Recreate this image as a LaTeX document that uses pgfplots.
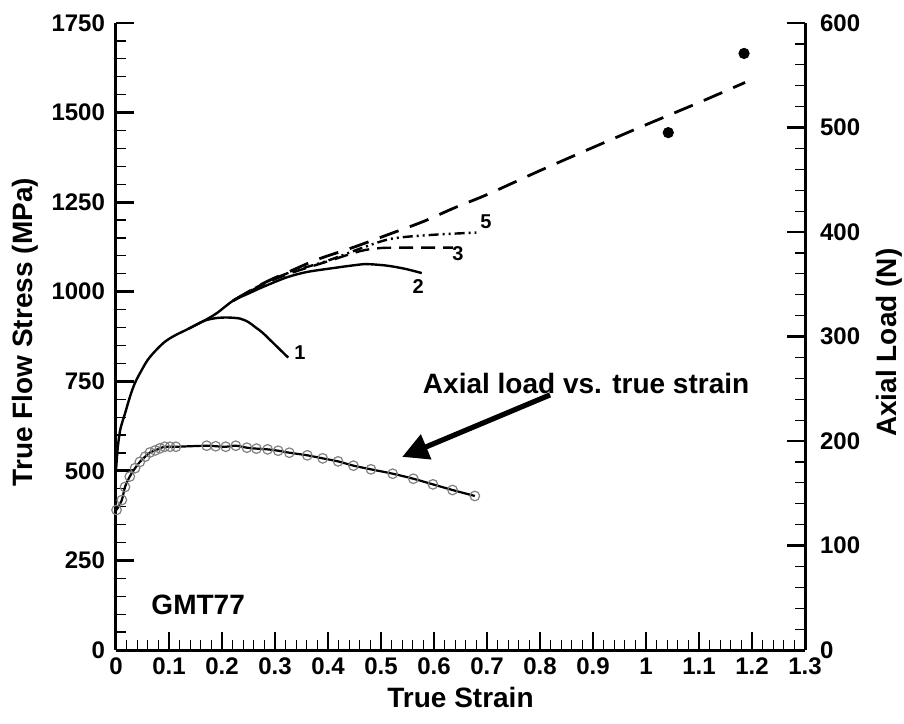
\documentclass[border=0pt]{standalone}
\usepackage{pgfplots}
\pgfplotsset{compat=1.18}
\usepackage{pgfplotstable}
\usepackage{fontspec}
\setmainfont{Liberation Sans}
\usetikzlibrary{arrows.meta}

% axial load (N) vs true strain, right axis
\pgfplotstableread{
e     load
0.001 134
0.011 143.5
0.017 156
0.026 166
0.036 174
0.045 180
0.055 185
0.064 189
0.074 191
0.083 193
0.092 194.5
0.102 194.5
0.113 194.5
0.171 195.5
0.188 195
0.207 194.5
0.226 195.5
0.247 193.6
0.265 192.7
0.286 192
0.306 190.7
0.327 188.8
0.361 186.3
0.390 183.4
0.419 180.5
0.448 176.4
0.481 172.9
0.522 168.7
0.561 163.9
0.598 158.5
0.635 153.1
0.677 147.4
}\loaddata

\pgfplotsset{
  myaxis/.style={
    scale only axis, width=344.5pt, height=313.5pt,
    xmin=0, xmax=1.3,
    tick align=inside,
    axis line style={line width=1.5pt},
    major tick length=9pt, minor tick length=5pt,
    major tick style={black, line width=1.4pt},
    minor tick style={black, line width=0.6pt},
    /pgf/number format/assume math mode=true,
    /pgf/number format/1000 sep={},
    tick label style={font=\fontsize{12}{14}\selectfont\bfseries},
    clip=false,
  }
}

\begin{document}
\begin{tikzpicture}
\useasboundingbox (-58pt,-36.5pt) rectangle (394pt,325pt);
\begin{axis}[myaxis,
  axis x line*=bottom, axis y line*=left,
  ymin=0, ymax=1750,
  xtick={0,0.1,0.2,0.3,0.4,0.5,0.6,0.7,0.8,0.9,1,1.1,1.2,1.3},
  minor x tick num=4,
  ytick={0,250,500,750,1000,1250,1500,1750},
  minor y tick num=4,
  yticklabel style={xshift=-2pt},
  xticklabel style={yshift=-0.5pt},
  xlabel={True Strain},
  ylabel={True Flow Stress (MPa)},
  xlabel style={at={(axis description cs:0.5,-0.075)}, anchor=center,
    font=\fontsize{14}{16}\selectfont\bfseries},
  ylabel style={at={(axis description cs:-0.132,0.507)}, anchor=center,
    font=\fontsize{14}{16}\selectfont\bfseries},
]
% curve 1
\addplot[black, line width=1.2pt, smooth] coordinates {
(0,500) (0.003,560) (0.008,615) (0.017,660) (0.027,710) (0.036,746)
(0.048,780) (0.06,810) (0.075,836) (0.092,860) (0.11,877) (0.136,896)
(0.165,918) (0.187,926) (0.21,928) (0.234,925) (0.25,915) (0.262,902)
(0.277,885) (0.30,852) (0.325,816)};
% curve 2
\addplot[black, line width=1.2pt, smooth] coordinates {
(0.136,896) (0.165,918) (0.19,940) (0.221,975) (0.25,995) (0.28,1015)
(0.322,1040) (0.36,1055) (0.41,1066) (0.45,1074) (0.473,1077) (0.51,1073)
(0.545,1064) (0.577,1052)};
% curve 3
\addplot[black, line width=1.2pt, dash pattern=on 7pt off 4pt, smooth] coordinates {
(0.221,975) (0.28,1022) (0.33,1052) (0.40,1085) (0.46,1113) (0.50,1122)
(0.56,1123) (0.636,1123)};
% curve 5
\addplot[black, line width=1.2pt, dash pattern=on 5pt off 2pt on 1pt off 2pt on 1pt off 2pt, smooth] coordinates {
(0.221,975) (0.28,1024) (0.33,1055) (0.40,1087) (0.46,1120) (0.52,1148)
(0.60,1159) (0.68,1165)};
% extrapolation
\addplot[black, line width=1.4pt, dash pattern=on 10pt off 6pt, smooth] coordinates {
(0.221,975) (0.28,1025) (0.33,1058) (0.38,1090) (0.45,1125) (0.52,1163)
(0.58,1196) (0.64,1235) (0.70,1271) (0.80,1338) (0.913,1411) (1.0,1466)
(1.1,1528) (1.187,1584)};
% measured points
\addplot[only marks, mark=*, mark size=2.6pt, black] coordinates {
(1.042,1444) (1.185,1665)};

\node[font=\fontsize{10}{12}\selectfont\bfseries] at (axis cs:0.347,830) {1};
\node[font=\fontsize{10}{12}\selectfont\bfseries] at (axis cs:0.570,1014) {2};
\node[font=\fontsize{10}{12}\selectfont\bfseries] at (axis cs:0.645,1106) {3};
\node[font=\fontsize{10}{12}\selectfont\bfseries] at (axis cs:0.698,1196) {5};
\node[font=\fontsize{14}{16}\selectfont\bfseries] at (axis cs:0.887,743) {Axial load vs. true strain};
\node[font=\fontsize{14}{16}\selectfont\bfseries] at (axis cs:0.155,126) {GMT77};
\draw[-{Triangle[length=13pt,width=13pt]}, line width=2.6pt]
  (axis cs:0.819,712) -- (axis cs:0.540,539);
\end{axis}

\begin{axis}[myaxis,
  axis y line*=right, axis x line=none,
  ymin=0, ymax=600,
  ytick={0,100,200,300,400,500,600},
  minor y tick num=4,
  yticklabel style={xshift=4pt},
  ylabel={Axial Load (N)},
  ylabel style={at={(axis description cs:1.123,0.49)}, anchor=center,
    font=\fontsize{14}{16}\selectfont\bfseries},
]
\addplot[only marks, mark=o, mark size=2.4pt, mark options={gray, line width=0.6pt}]
  table[x=e, y=load] {\loaddata};
\addplot[black, line width=1.1pt, smooth] table[x=e, y=load] {\loaddata};
\end{axis}
\end{tikzpicture}
\end{document}
